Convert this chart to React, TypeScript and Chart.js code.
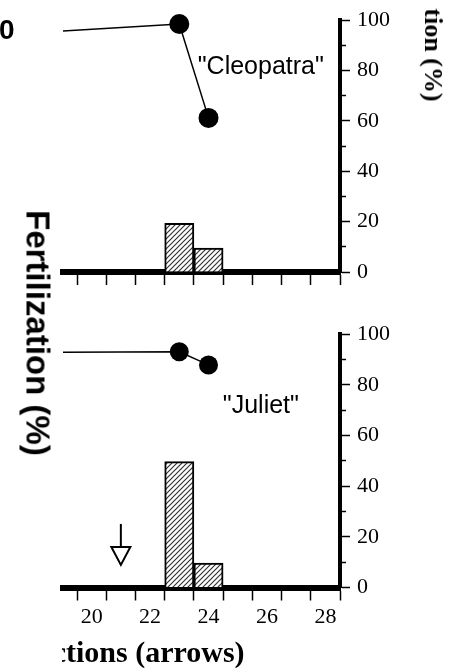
import React, { useEffect, useRef } from "react";
import { Chart, registerables } from "chart.js";

Chart.register(...registerables);

// ---- data ----
const barDays = [23, 24];
const cleopatraBars = [19.3, 9.5];
const julietBars = [49.7, 9.6];
const lineDays = [17, 23, 24];
const cleopatraFert = [94.3, 98.5, 61.2];
const julietFert = [92.8, 93.1, 87.9];
const binEdges = [19.5, 20.5, 21.5, 22.5, 23.5, 24.5, 25.5, 26.5, 27.5, 28.5];
const xTickLabels = [20, 22, 24, 26, 28];
const yTicks = [0, 10, 20, 30, 40, 50, 60, 70, 80, 90, 100];
const xRange = [19.02, 28.5];
const injectionDays = [21];
const injectionArrowFrom = [25.1];
const injectionArrowTo = [8.9];

const SERIF = '"Liberation Serif", "Times New Roman", serif';
const SANS = '"Liberation Sans", Arial, sans-serif';

function makeHatch(): CanvasPattern | string {
  const s = 5;
  const c = document.createElement("canvas");
  c.width = s;
  c.height = s;
  const g = c.getContext("2d");
  if (!g) return "#ccc";
  g.fillStyle = "#fff";
  g.fillRect(0, 0, s, s);
  g.strokeStyle = "#333";
  g.lineWidth = 1.2;
  g.beginPath();
  g.moveTo(0, s);
  g.lineTo(s, 0);
  g.moveTo(-1, 1);
  g.lineTo(1, -1);
  g.moveTo(s - 1, s + 1);
  g.lineTo(s + 1, s - 1);
  g.stroke();
  return g.createPattern(c, "repeat") || "#ccc";
}

const annotPlugin = {
  id: "annot",
  afterDatasetsDraw(chart: any, _args: any, opts: any) {
    const { ctx } = chart;
    const x = chart.scales.x;
    const y = chart.scales.y;
    ctx.save();
    const labels = opts.labels || [];
    for (let i = 0; i < labels.length; i++) {
      const l = labels[i];
      ctx.font = `25px ${SANS}`;
      ctx.fillStyle = "#000";
      ctx.textAlign = "left";
      ctx.textBaseline = "middle";
      ctx.fillText(l.text, x.getPixelForValue(l.x), y.getPixelForValue(l.y));
    }
    const arrows = opts.arrows || [];
    for (let i = 0; i < arrows.length; i++) {
      const a = arrows[i];
      const px = x.getPixelForValue(a.x);
      const top = y.getPixelForValue(a.from);
      const tip = y.getPixelForValue(a.to);
      const headH = 18;
      const headW = 9.5;
      ctx.strokeStyle = "#000";
      ctx.lineWidth = 2;
      ctx.beginPath();
      ctx.moveTo(px, top);
      ctx.lineTo(px, tip - headH);
      ctx.stroke();
      ctx.beginPath();
      ctx.moveTo(px - headW, tip - headH);
      ctx.lineTo(px + headW, tip - headH);
      ctx.lineTo(px, tip);
      ctx.closePath();
      ctx.fillStyle = "#fff";
      ctx.fill();
      ctx.stroke();
    }
    ctx.restore();
  },
};

function buildConfig(opts: {
  bars: number[];
  line: number[];
  padTop: number;
  xHeight: number;
  showLabels: boolean;
  labelsHeight: number;
  annot: any;
  pointR: number;
}) {
  const hatch = makeHatch();
  const scales: any = {
    x: {
      type: "linear",
      position: "bottom",
      min: xRange[0],
      max: xRange[1],
      offset: false,
      bounds: "data",
      weight: 0,
      z: 1,
      afterBuildTicks: (s: any) => {
        s.ticks = binEdges.map((v) => ({ value: v }));
      },
      afterFit: (s: any) => {
        s.height = opts.xHeight;
        s.paddingLeft = 0;
        s.paddingRight = 0;
      },
      grid: {
        display: true,
        offset: false,
        drawOnChartArea: false,
        drawTicks: true,
        tickLength: 13,
        tickWidth: 1.5,
        tickColor: "#000",
      },
      border: { display: true, width: 6, color: "#000" },
      ticks: { display: false, autoSkip: false },
    },
    y: {
      type: "linear",
      position: "right",
      min: 0,
      max: 100,
      z: 1,
      afterBuildTicks: (s: any) => {
        s.ticks = yTicks.map((v) => ({ value: v }));
      },
      afterFit: (s: any) => {
        s.width = 125;
      },
      grid: {
        display: true,
        drawOnChartArea: false,
        drawTicks: true,
        tickLength: 10,
        tickWidth: 1.5,
        tickColor: "#000",
        tickBorderDash: (c: any) =>
          c.tick && c.tick.value % 20 === 0 ? [] : [4, 100],
      },
      border: { display: true, width: 4, color: "#000" },
      ticks: {
        autoSkip: false,
        padding: 7,
        color: "#000",
        font: { family: SERIF, size: 22 },
        callback: (v: any) => (Number(v) % 20 === 0 ? String(v) : ""),
      },
    },
  };
  if (opts.showLabels) {
    scales.xl = {
      type: "linear",
      axis: "x",
      position: "bottom",
      min: xRange[0],
      max: xRange[1],
      offset: false,
      bounds: "data",
      weight: 1,
      afterBuildTicks: (s: any) => {
        s.ticks = xTickLabels.map((v) => ({ value: v }));
      },
      afterFit: (s: any) => {
        s.height = opts.labelsHeight;
        s.paddingLeft = 0;
        s.paddingRight = 0;
      },
      grid: { display: false, offset: false, drawTicks: false },
      border: { display: false },
      ticks: {
        autoSkip: false,
        maxRotation: 0,
        minRotation: 0,
        padding: 4,
        color: "#000",
        font: { family: SERIF, size: 22 },
        callback: (v: any) => String(v),
      },
    };
  }
  return {
    type: "bar" as const,
    data: {
      datasets: [
        {
          type: "line" as const,
          data: lineDays.map((d, i) => ({ x: d, y: opts.line[i] })),
          borderColor: "#000",
          borderWidth: 1.5,
          pointRadius: (c: any) => (c.dataIndex === 0 ? 0 : opts.pointR),
          pointBackgroundColor: "#000",
          pointBorderWidth: 0,
          pointHoverRadius: opts.pointR,
          clip: { left: 0, top: false, right: false, bottom: false },
          order: 0,
        },
        {
          type: "bar" as const,
          data: barDays.map((d, i) => ({ x: d, y: opts.bars[i] })),
          backgroundColor: hatch,
          borderColor: "#000",
          borderWidth: 2,
          barPercentage: 1,
          categoryPercentage: 1,
          order: 1,
        },
      ],
    },
    options: {
      responsive: false,
      animation: false as const,
      layout: { padding: { left: 63, top: opts.padTop, right: 0, bottom: 0 } },
      plugins: {
        legend: { display: false },
        tooltip: { enabled: false },
        annot: opts.annot,
      },
      scales,
    },
    plugins: [annotPlugin],
  };
}

export default function App() {
  const topRef = useRef<HTMLCanvasElement>(null);
  const botRef = useRef<HTMLCanvasElement>(null);

  useEffect(() => {
    if (!topRef.current || !botRef.current) return;
    const top = new Chart(
      topRef.current,
      buildConfig({
        bars: cleopatraBars,
        line: cleopatraFert,
        padTop: 19,
        xHeight: 23,
        showLabels: false,
        labelsHeight: 0,
        pointR: 10,
        annot: {
          labels: [{ text: '"Cleopatra"', x: 23.63, y: 81.3 }],
          arrows: [],
        },
      }) as any
    );
    const bot = new Chart(
      botRef.current,
      buildConfig({
        bars: julietBars,
        line: julietFert,
        padTop: 39.3,
        xHeight: 13,
        showLabels: true,
        labelsHeight: 71.5,
        pointR: 9.5,
        annot: {
          labels: [{ text: '"Juliet"', x: 24.49, y: 71.6 }],
          arrows: injectionDays.map((d, i) => ({
            x: d,
            from: injectionArrowFrom[i],
            to: injectionArrowTo[i],
          })),
        },
      }) as any
    );
    return () => {
      top.destroy();
      bot.destroy();
    };
  }, []);

  return (
    <div
      style={{
        position: "absolute",
        left: 0,
        top: 0,
        width: 465,
        height: 672,
        background: "#fff",
        overflow: "hidden",
      }}
    >
      <canvas
        ref={topRef}
        width={465}
        height={295}
        style={{ position: "absolute", left: 0, top: 0, width: 465, height: 295 }}
      />
      <canvas
        ref={botRef}
        width={465}
        height={377}
        style={{ position: "absolute", left: 0, top: 295, width: 465, height: 377 }}
      />
      <div
        style={{
          position: "absolute",
          left: -1,
          top: 16,
          font: `bold 28px ${SANS}`,
          lineHeight: "28px",
          color: "#000",
        }}
      >
        0
      </div>
      <div
        style={{
          position: "absolute",
          left: 38.4,
          top: 332.5,
          transform: "translate(-50%, -50%) rotate(90deg)",
          font: `bold 33px ${SANS}`,
          lineHeight: "33px",
          whiteSpace: "nowrap",
          color: "#000",
        }}
      >
        Fertilization (%)
      </div>
      <div
        style={{
          position: "absolute",
          left: 432.8,
          top: 54.5,
          transform: "translate(-50%, -50%) rotate(90deg)",
          font: `bold 26px ${SERIF}`,
          lineHeight: "26px",
          whiteSpace: "nowrap",
          color: "#000",
        }}
      >
        tion (%)
      </div>
      <div
        style={{
          position: "absolute",
          left: 62,
          top: 630,
          width: 230,
          height: 42,
          overflow: "hidden",
        }}
      >
        <span
          style={{
            position: "absolute",
            left: -9.3,
            top: 7,
            font: `bold 30px ${SERIF}`,
            lineHeight: "30px",
            whiteSpace: "nowrap",
            color: "#000",
          }}
        >
          ctions (arrows)
        </span>
      </div>
    </div>
  );
}
